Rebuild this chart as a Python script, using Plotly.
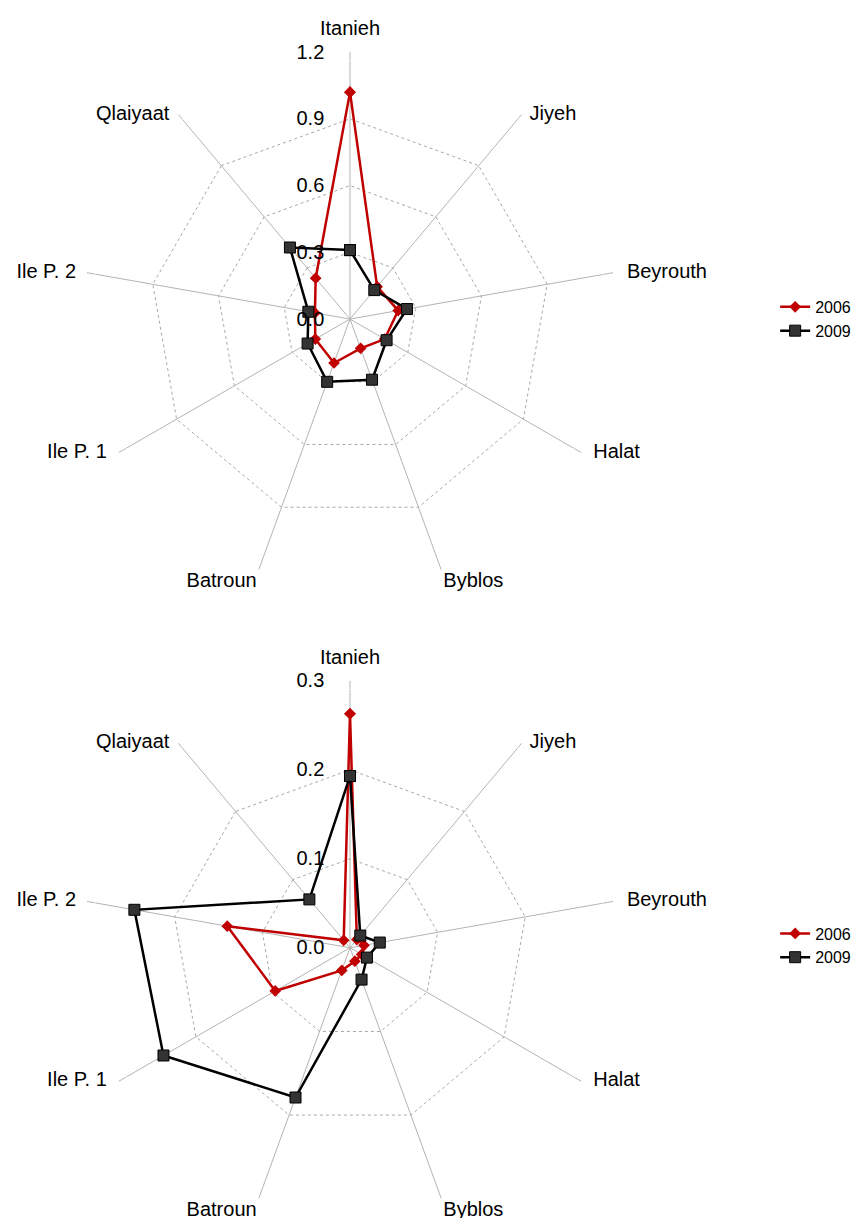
import plotly.graph_objects as go

sites = ['Itanieh', 'Jiyeh', 'Beyrouth', 'Halat', 'Byblos', 'Batroun', 'Ile P. 1', 'Ile P. 2', 'Qlaiyaat']

# top chart
top_2006 = [1.02, 0.19, 0.22, 0.18, 0.14, 0.21, 0.18, 0.16, 0.24]
top_2009 = [0.31, 0.17, 0.26, 0.19, 0.29, 0.30, 0.22, 0.19, 0.42]
top_ticks = [0.0, 0.3, 0.6, 0.9, 1.2]

# bottom chart
bot_2006 = [0.263, 0.012, 0.016, 0.015, 0.016, 0.027, 0.097, 0.14, 0.011]
bot_2009 = [0.193, 0.018, 0.034, 0.022, 0.038, 0.179, 0.242, 0.246, 0.071]
bot_ticks = [0.0, 0.1, 0.2, 0.3]

red = '#C00000'
font = 'Liberation Sans, Arial, sans-serif'
pad = '\u00a0' * 4  # pushes radial labels to the left of the spoke

# category label placement around the outer ring (excel style)
lbl_pos = ['top center', 'middle right', 'middle right', 'middle right', 'bottom right',
           'bottom left', 'middle left', 'middle left', 'middle left']
lbl_gap = [12, 8, 14, 12, 2, 2, 12, 11, 9]
lbl_size = [1.6 * (g - 1) for g in lbl_gap]


def closed(v):
    return v + v[:1]


fig = go.Figure()
for sub, leg, a, b, ticks in [('polar', 'legend', top_2006, top_2009, top_ticks),
                              ('polar2', 'legend2', bot_2006, bot_2009, bot_ticks)]:
    fig.add_trace(go.Scatterpolar(
        r=closed(a), theta=closed(sites), name='2006', subplot=sub, legend=leg,
        mode='lines+markers', line=dict(color=red, width=2.5),
        marker=dict(symbol='diamond', size=9, color=red)))
    fig.add_trace(go.Scatterpolar(
        r=closed(b), theta=closed(sites), name='2009', subplot=sub, legend=leg,
        mode='lines+markers', line=dict(color='black', width=2.5),
        marker=dict(symbol='square', size=11, color='#333333', line=dict(color='black', width=1))))
    # category names
    fig.add_trace(go.Scatterpolar(
        r=[ticks[-1]] * len(sites), theta=sites, subplot=sub, showlegend=False,
        mode='markers+text', text=sites, textposition=lbl_pos, cliponaxis=False,
        marker=dict(size=lbl_size, color='rgba(0,0,0,0)'),
        textfont=dict(size=20, color='black', family=font), hoverinfo='skip'))


def polar_cfg(dom_y, ticks):
    return dict(
        domain=dict(x=[0.0871, 0.7073], y=dom_y),
        gridshape='linear',
        bgcolor='white',
        angularaxis=dict(direction='clockwise', rotation=90, showline=False,
                         gridcolor='#b4b4b4', gridwidth=1,
                         ticks='', showticklabels=False),
        radialaxis=dict(range=[ticks[0], ticks[-1]], tickvals=ticks,
                        ticktext=['%.1f' % t + pad for t in ticks],
                        angle=90, tickangle=90, side='counterclockwise',
                        showline=False, ticks='',
                        gridcolor='#a8a8a8', griddash='3px,3px', gridwidth=1,
                        tickfont=dict(size=20, color='black', family=font)),
    )


fig.update_layout(
    width=861, height=1218,
    margin=dict(l=0, r=0, t=0, b=0),
    paper_bgcolor='white',
    font=dict(family=font, color='black'),
    polar=polar_cfg([0.5254, 0.9638], top_ticks),
    polar2=polar_cfg([0.0092, 0.4476], bot_ticks),
    legend=dict(x=0.891, y=0.7447, xanchor='left', yanchor='middle',
                font=dict(size=16), tracegroupgap=0, itemwidth=30),
    legend2=dict(x=0.891, y=0.2303, xanchor='left', yanchor='middle',
                 font=dict(size=16), tracegroupgap=0, itemwidth=30),
)

fig.write_html('out.html')
